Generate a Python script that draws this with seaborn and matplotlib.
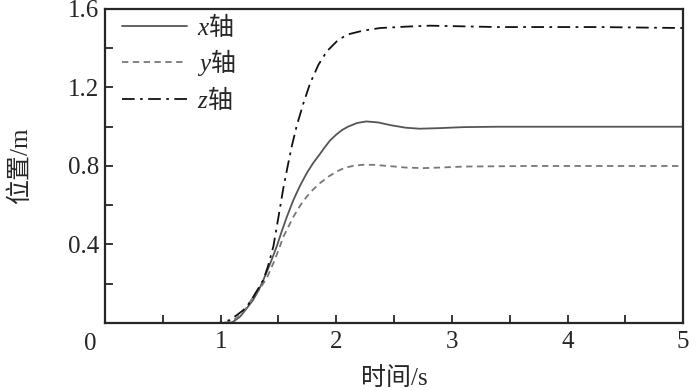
import numpy as np
import pandas as pd
import seaborn as sns
import matplotlib.pyplot as plt

# values
t_x = [0, 0.5, 1.0, 1.08, 1.11, 1.168, 1.22, 1.28, 1.33, 1.37, 1.43, 1.485, 1.53, 1.572, 1.63, 1.687, 1.745, 1.80, 1.86, 1.90, 1.946, 2.0, 2.05, 2.10, 2.18, 2.26, 2.36, 2.47, 2.6, 2.72, 2.9, 3.1, 3.39, 4.0, 5.0]
pos_x = [0, 0, 0, 0, 0.007, 0.032, 0.07, 0.117, 0.168, 0.22, 0.305, 0.39, 0.47, 0.54, 0.628, 0.70, 0.764, 0.815, 0.862, 0.895, 0.93, 0.96, 0.983, 1.0, 1.019, 1.027, 1.022, 1.008, 0.995, 0.99, 0.993, 0.998, 1.0, 1.0, 1.0]

t_y = [0, 0.5, 1.0, 1.08, 1.15, 1.22, 1.283, 1.34, 1.40, 1.456, 1.50, 1.543, 1.59, 1.63, 1.69, 1.745, 1.80, 1.86, 1.93, 2.004, 2.07, 2.148, 2.23, 2.32, 2.45, 2.6, 2.75, 2.9, 3.1, 3.68, 4.0, 5.0]
pos_y = [0, 0, 0, 0.005, 0.03, 0.075, 0.134, 0.175, 0.23, 0.305, 0.37, 0.44, 0.495, 0.542, 0.60, 0.644, 0.68, 0.713, 0.745, 0.772, 0.79, 0.801, 0.806, 0.806, 0.80, 0.792, 0.789, 0.792, 0.797, 0.80, 0.80, 0.80]

t_z = [0, 0.5, 0.98, 1.02, 1.08, 1.14, 1.197, 1.24, 1.283, 1.33, 1.37, 1.41, 1.456, 1.50, 1.543, 1.58, 1.615, 1.658, 1.716, 1.773, 1.845, 1.918, 2.004, 2.09, 2.206, 2.29, 2.38, 2.6, 2.81, 3.39, 4.25, 5.0]
pos_z = [0, 0, 0, 0.005, 0.015, 0.04, 0.066, 0.095, 0.134, 0.18, 0.22, 0.29, 0.39, 0.54, 0.69, 0.80, 0.90, 1.005, 1.12, 1.22, 1.315, 1.384, 1.435, 1.469, 1.486, 1.495, 1.503, 1.51, 1.515, 1.508, 1.508, 1.503]

labels = [r'$x\mathrm{轴}$', r'$y\mathrm{轴}$', r'$z\mathrm{轴}$']

df = pd.concat([
    pd.DataFrame({'t': t_x, 'p': pos_x, 'axis': labels[0]}),
    pd.DataFrame({'t': t_y, 'p': pos_y, 'axis': labels[1]}),
    pd.DataFrame({'t': t_z, 'p': pos_z, 'axis': labels[2]}),
])

sns.set_style('ticks')
plt.rcParams['font.family'] = ['Liberation Serif', 'Noto Sans CJK SC']
plt.rcParams['mathtext.fontset'] = 'custom'
plt.rcParams['mathtext.it'] = 'Liberation Serif:italic'
plt.rcParams['mathtext.rm'] = 'Noto Sans CJK SC'
plt.rcParams['mathtext.default'] = 'it'

fig = plt.figure(figsize=(7, 3.91), dpi=100)
ax = fig.add_axes([0.15, 0.174, 0.826, 0.803])

colors = {labels[0]: '#555555', labels[1]: '#777777', labels[2]: '#111111'}
dashes = {labels[0]: '', labels[1]: (3.5, 2.5), labels[2]: (7, 3, 1.5, 3)}
sns.lineplot(data=df, x='t', y='p', hue='axis', style='axis', palette=colors,
             dashes=dashes, linewidth=1.3, ax=ax, estimator=None, sort=False)

ax.set_xlim(0, 5)
ax.set_ylim(0, 1.6)
ax.set_xticks([0, 1, 2, 3, 4, 5])
ax.set_xticklabels(['', '1', '2', '3', '4', '5'])
ax.set_xticks(np.arange(0, 5.01, 0.5), minor=True)
ax.set_yticks([0.4, 0.8, 1.2, 1.6])
ax.set_yticks(np.arange(0, 1.61, 0.2), minor=True)
ax.set_yticklabels(['0.4', '0.8', '1.2', '1.6'])
ax.tick_params(which='both', direction='in', length=6, width=1.3, labelsize=18, top=False, right=False)
ax.tick_params(axis='x', pad=6)
ax.tick_params(axis='y', pad=4)
for s in ax.spines.values():
    s.set_linewidth(1.6)
ax.text(-0.026, -0.033, '0', transform=ax.transAxes, ha='center', va='top', fontsize=18)
ax.set_xlabel('时间/s', fontsize=18, labelpad=10)
ax.set_ylabel('位置/m', fontsize=18, labelpad=26)
ax.legend(loc='upper left', bbox_to_anchor=(0.008, 1.03), frameon=False, fontsize=18,
          handlelength=2.6, handletextpad=0.4, labelspacing=0.28, borderaxespad=0.1, title=None)

fig.savefig('out.png', dpi=100)
